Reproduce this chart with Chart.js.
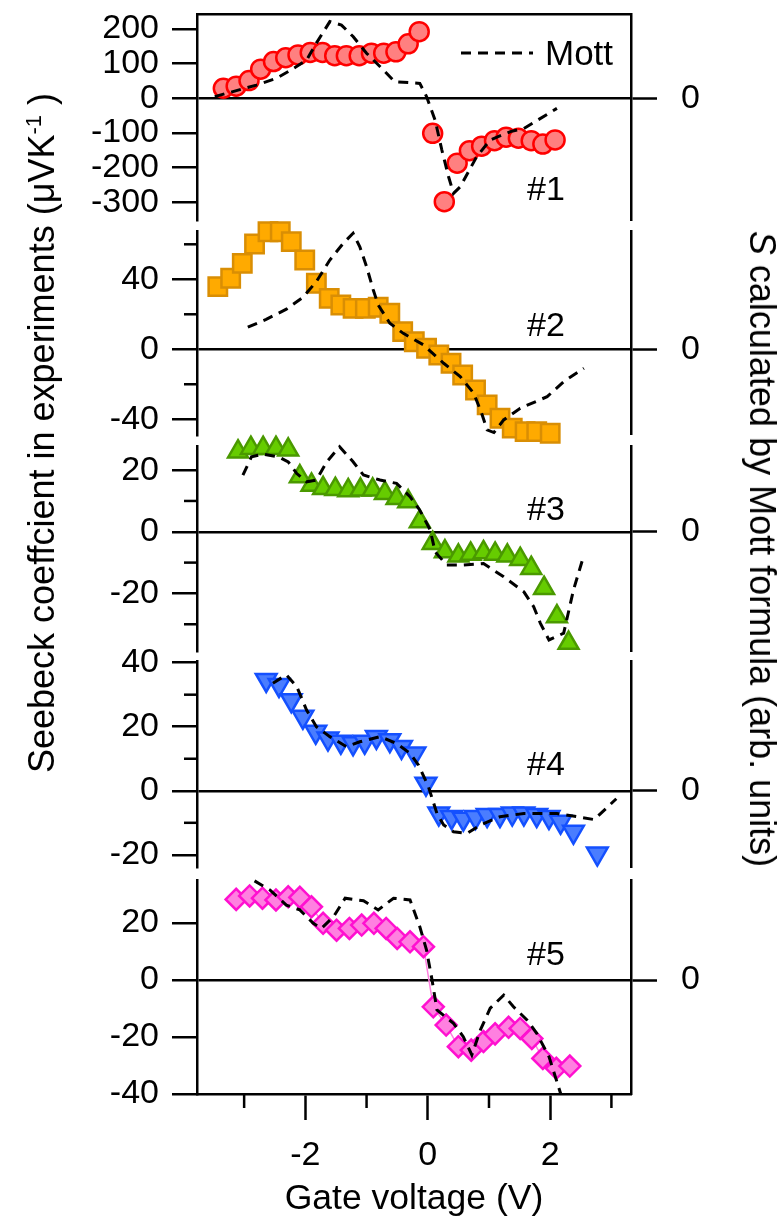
<!DOCTYPE html>
<html>
<head>
<meta charset="utf-8">
<script src="https://cdn.jsdelivr.net/npm/chart.js"></script>
<style>
body { margin: 0; background: #fff; }
#wrap { position: relative; width: 781px; height: 1221px; overflow: hidden; font-family: 'Liberation Sans', Arial, sans-serif; color: #000; }
#wrap canvas { position: absolute; left: 0; top: 0; }
.tag { position: absolute; font-size: 34px; line-height: 34px; white-space: nowrap; }
.vtitle { position: absolute; font-size: 36px; line-height: 40px; white-space: nowrap; }
.vtitle sup { font-size: 22px; line-height: 0; }
</style>
</head>
<body>
<div id="wrap">
  <div class="vtitle" id="leftTitle">Seebeck coeffcient in experiments (μVK<sup>-1</sup>&nbsp;)</div>
  <div class="vtitle" id="rightTitle"><i>S</i> calculated by Mott formula (arb. units)</div>
  <svg style="position:absolute; left:461px; top:48px" width="74" height="10">
    <line x1="0" y1="5" x2="72" y2="5" stroke="#000" stroke-width="3" stroke-dasharray="10,7"></line>
  </svg>
  <div class="tag" style="left:545px; top:36px; font-size:35px">Mott</div>
  <div class="tag" style="left:527px; top:171px">#1</div>
  <div class="tag" style="left:527px; top:307px">#2</div>
  <div class="tag" style="left:527px; top:491px">#3</div>
  <div class="tag" style="left:527px; top:746px">#4</div>
  <div class="tag" style="left:527px; top:936px">#5</div>
</div>
<script>
// experiment (markers) and Mott (dashed) curves, gate voltage in V
const v1 = [-3.34,-3.13,-2.92,-2.73,-2.52,-2.32,-2.12,-1.92,-1.72,-1.52,-1.33,-1.12,-0.92,-0.72,-0.52,-0.32,-0.14,0.08,0.27,0.48,0.68,0.88,1.09,1.28,1.48,1.69,1.88,2.08]
const s1 = [29,35,51,84,106,117,125,132,132,123,123,123,130,130,134,157,192,-101,-298,-187,-151,-138,-122,-112,-115,-122,-132,-120]
const mv1 = [-3.48,-2.8,-2.47,-2.25,-1.98,-1.82,-1.6,-1.41,-1.22,-1.0,-0.75,-0.54,-0.13,-0.02,0.12,0.23,0.34,0.42,0.53,0.8,1.02,1.35,1.57,2.11]
const m1 = [5,38,58,80,110,159,221,211,178,130,86,48,43,5,-63,-149,-226,-274,-255,-168,-120,-96,-87,-29]

const v2 = [-3.43,-3.22,-3.03,-2.83,-2.61,-2.41,-2.23,-2.01,-1.82,-1.61,-1.42,-1.22,-1.02,-0.81,-0.62,-0.41,-0.22,-0.02,0.18,0.38,0.57,0.78,0.97,1.18,1.38,1.59,1.78,2.0]
const s2 = [35.8,40.6,49.1,60.2,67.2,67.2,61.5,51,37.7,29.1,25.3,23.4,23.4,24,20.6,10.1,4.3,0.6,-3.3,-8,-14.7,-23.3,-31.8,-39.4,-45.1,-47.1,-47.1,-48]
const mv2 = [-2.94,-2.64,-2.31,-2.04,-1.82,-1.6,-1.38,-1.22,-1.11,-1.0,-0.89,-0.81,-0.62,-0.4,-0.07,0.26,0.53,0.75,0.88,0.97,1.08,1.24,1.51,1.95,2.22,2.55]
const m2 = [12.6,17.1,22.9,29.7,38.7,51,60.6,66.3,58.6,47.2,33.9,25.3,14.9,9.1,2.5,-8,-15.6,-25.1,-36.6,-46.1,-47.6,-40.4,-33.7,-27.1,-18.5,-10.9]

const v3 = [-3.1,-2.89,-2.69,-2.48,-2.28,-2.09,-1.9,-1.71,-1.51,-1.3,-1.1,-0.9,-0.7,-0.51,-0.32,-0.13,0.08,0.28,0.5,0.7,0.91,1.1,1.3,1.51,1.69,1.9,2.11,2.3]
const s3 = [26,27.1,27.1,27.1,26.6,17.9,15.2,14.1,13.8,13.4,13.6,13.6,12.5,10.9,9.8,3.3,-3.7,-6.4,-7.8,-7.2,-6.7,-7.2,-7.8,-8.9,-11.8,-18.3,-27.5,-36.1]
const mv3 = [-3.02,-2.88,-2.69,-2.44,-2.28,-2.14,-1.98,-1.82,-1.65,-1.44,-1.22,-1.05,-0.78,-0.51,-0.29,-0.13,0.04,0.12,0.31,0.58,0.91,1.24,1.57,1.73,1.84,1.98,2.22,2.38,2.55]
const m3 = [18.4,24.3,25.2,24.3,22.7,18.9,16.2,16.8,22.7,27.6,22.7,18.4,16.8,15.7,11.4,7,0.6,-6.5,-10.8,-10.8,-10.3,-14.6,-19.5,-24.3,-29.7,-35.1,-32.9,-18.9,-7.6]

const v4 = [-2.64,-2.43,-2.23,-2.04,-1.83,-1.63,-1.42,-1.22,-1.03,-0.84,-0.62,-0.43,-0.21,-0.03,0.18,0.39,0.58,0.78,0.97,1.18,1.38,1.57,1.78,1.98,2.17,2.38,2.77]
const s4 = [34.6,33,28.3,23.1,18.4,16.3,15.3,14.8,15.3,16.8,15.8,13.7,11.6,2.2,-7.1,-8.2,-8.7,-8.2,-7.6,-7.6,-7.1,-7.1,-7.6,-8.2,-9.7,-12.8,-19.6]
const mv4 = [-2.53,-2.31,-2.14,-2.06,-1.98,-1.82,-1.6,-1.33,-1.11,-0.78,-0.51,-0.29,-0.15,0.01,0.15,0.26,0.42,0.64,0.86,1.18,1.57,2.11,2.44,2.72,3.08]
const m4 = [33.6,36.2,32.5,28.9,25.2,20,16.9,13.8,15.3,16.9,14.8,11.7,8,1.3,-7.1,-10.7,-12.8,-13.3,-10.7,-8.1,-7.1,-7.1,-8.1,-9,-2.5]

const v5 = [-3.13,-2.91,-2.7,-2.48,-2.28,-2.09,-1.9,-1.71,-1.49,-1.28,-1.08,-0.88,-0.68,-0.5,-0.29,-0.07,0.09,0.3,0.5,0.71,0.91,1.1,1.32,1.51,1.7,1.88,2.1,2.32]
const s5 = [28.3,29.5,28.7,28.1,29.2,29,25.7,19.9,17.5,18.1,19.3,19.9,18.1,14.6,13.4,11.7,-9.4,-15.8,-23.4,-24.6,-21.6,-18.9,-16.6,-17,-20.5,-27.5,-31,-30.2]
const mv5 = [-2.83,-2.58,-2.31,-2.09,-1.87,-1.74,-1.54,-1.35,-1.05,-0.81,-0.56,-0.29,-0.13,-0.02,0.07,0.15,0.42,0.58,0.72,0.86,1.02,1.24,1.4,1.62,1.78,1.98,2.17]
const m5 = [34.8,31.6,26.3,24.6,19.9,18.1,22.2,28.7,27.8,24.6,28.7,28.1,18.7,10.5,0,-10.5,-15.2,-19.9,-26.3,-17.5,-9.9,-5.3,-9.4,-14,-18.7,-26.9,-39.8]

// axes
const xRange = [-3.77, 3.32]
const xTicks = [-2, 0, 2]
const xMinor = [-3, -1, 1, 3]
const yRanges = [[-350.7, 243], [-49, 67.2], [-38.9, 27.6], [-23.8, 40.3], [-40, 35.1]]
const yTicks = [[-300, -200, -100, 0, 100, 200], [-40, 0, 40], [-20, 0, 20], [-20, 0, 20, 40], [-40, -20, 0, 20]]
const yMinor = [[], [60, 20, -20], [10, -10, -30], [30, 10, -10], []]

const expV = [v1, v2, v3, v4, v5]
const expS = [s1, s2, s3, s4, s5]
const mottV = [mv1, mv2, mv3, mv4, mv5]
const mottS = [m1, m2, m3, m4, m5]

// panel boxes in page pixels and marker looks
const tops = [14, 231.7, 446.7, 661.7, 880]
const bottoms = [220, 435, 651.7, 867, 1094]
const looks = [
    { style: 'circle', rot: 0, r: 9.5, fill: '#ff8080', edge: '#ff0000' },
    { style: 'rect', rot: 0, r: 13, fill: '#ffaa00', edge: '#d98e04' },
    { style: 'triangle', rot: 0, r: 11.5, fill: '#66cc00', edge: '#4a9900' },
    { style: 'triangle', rot: 180, r: 12, fill: '#4a7dff', edge: '#1450ff' },
    { style: 'rectRot', rot: 0, r: 10.5, fill: '#ff80e0', edge: '#ff10d0' }
]

const W = 781, H = 1221
const LEFT = 197, RIGHT = 631
const tickFont = { family: 'Liberation Sans', size: 34 }

Chart.defaults.color = '#000'
Chart.defaults.font.family = 'Liberation Sans'

function zip(xs, ys) {
    return xs.map((x, i) => ({ x: x, y: ys[i] }))
}

// short minor tick marks, placed with the chart's own scales
const minorTicks = {
    id: 'minorTicks',
    afterDraw(chart, args, opts) {
        let ctx = chart.ctx
        ctx.save()
        ctx.strokeStyle = '#000'
        ctx.lineWidth = 2.5
        let y = chart.scales.y
        for (let v of opts.y || []) {
            let py = y.getPixelForValue(v)
            ctx.beginPath()
            ctx.moveTo(chart.chartArea.left - 13, py)
            ctx.lineTo(chart.chartArea.left, py)
            ctx.stroke()
        }
        let x = chart.scales.x
        for (let v of opts.x || []) {
            let px = x.getPixelForValue(v)
            ctx.beginPath()
            ctx.moveTo(px, chart.chartArea.bottom)
            ctx.lineTo(px, chart.chartArea.bottom + 14)
            ctx.stroke()
        }
        ctx.restore()
    }
}

let wrap = document.getElementById('wrap')

function makePanel(i) {
    let first = i === 0
    let last = i === 4
    let look = looks[i]

    let canvas = document.createElement('canvas')
    canvas.width = W
    canvas.height = H
    wrap.insertBefore(canvas, wrap.firstChild)

    let xAxis = {
        type: 'linear',
        min: xRange[0],
        max: xRange[1],
        display: first || last,
        position: first ? 'top' : 'bottom',
        afterBuildTicks: s => { s.ticks = xTicks.map(v => ({ value: v })) },
        afterFit: s => { s.height = last ? H - bottoms[4] : 0 },
        border: { display: true, color: '#000', width: 2.5 },
        grid: { drawOnChartArea: false, drawTicks: last, tickLength: 26, tickWidth: 2.5, tickColor: '#000' },
        ticks: { display: last, autoSkip: false, maxRotation: 0, font: tickFont, padding: 15, color: '#000' },
        title: { display: last, text: 'Gate voltage (V)', font: { family: 'Liberation Sans', size: 35.5 }, padding: 0, color: '#000' }
    }

    new Chart(canvas.getContext('2d'), {
        type: 'scatter',
        data: {
            datasets: [
                {
                    label: 'Mott',
                    data: zip(mottV[i], mottS[i]),
                    showLine: true,
                    borderColor: '#000',
                    borderWidth: 3,
                    borderDash: [10, 7],
                    pointRadius: 0,
                    clip: false,
                    order: 0
                },
                {
                    label: '#' + (i + 1),
                    data: zip(expV[i], expS[i]),
                    showLine: last,
                    borderColor: look.fill,
                    borderWidth: 1.5,
                    pointStyle: look.style,
                    pointRotation: look.rot,
                    pointRadius: look.r,
                    pointBackgroundColor: look.fill,
                    pointBorderColor: look.edge,
                    pointBorderWidth: 2.5,
                    clip: false,
                    order: 1
                }
            ]
        },
        options: {
            responsive: false,
            animation: false,
            events: [],
            layout: { padding: { left: 0, right: 0, top: tops[i], bottom: last ? 0 : H - bottoms[i] } },
            plugins: {
                legend: { display: false },
                tooltip: { enabled: false },
                minorTicks: { y: yMinor[i], x: last ? xMinor : [] }
            },
            scales: {
                x: xAxis,
                y: {
                    type: 'linear',
                    position: 'left',
                    min: yRanges[i][0],
                    max: yRanges[i][1],
                    afterBuildTicks: s => { s.ticks = yTicks[i].map(v => ({ value: v })) },
                    afterFit: s => { s.width = LEFT; s.paddingTop = 0; s.paddingBottom = 0 },
                    border: { display: true, color: '#000', width: 2.5 },
                    grid: {
                        drawOnChartArea: true,
                        color: c => (c.tick && c.tick.value === 0) ? '#000' : 'rgba(0,0,0,0)',
                        lineWidth: 2.5,
                        tickLength: 25,
                        tickWidth: 2.5,
                        tickColor: '#000'
                    },
                    ticks: { autoSkip: false, font: tickFont, padding: 13, color: '#000' }
                },
                y1: {
                    type: 'linear',
                    position: 'right',
                    min: yRanges[i][0],
                    max: yRanges[i][1],
                    afterBuildTicks: s => { s.ticks = [{ value: 0 }] },
                    afterFit: s => { s.width = W - RIGHT; s.paddingTop = 0; s.paddingBottom = 0 },
                    border: { display: true, color: '#000', width: 2.5 },
                    grid: { drawOnChartArea: false, tickLength: 26, tickWidth: 2.5, tickColor: '#000' },
                    ticks: { autoSkip: false, font: tickFont, padding: 24, color: '#000' }
                }
            }
        },
        plugins: [minorTicks]
    })
}

for (let i = 0; i < 5; i++) makePanel(i)

// axis titles that run along the whole figure
let lt = document.getElementById('leftTitle')
lt.style.left = '42px'
lt.style.top = '433px'
lt.style.transform = 'translate(-50%, -50%) rotate(-90deg)'
let rt = document.getElementById('rightTitle')
rt.style.left = '762px'
rt.style.top = '549px'
rt.style.transform = 'translate(-50%, -50%) rotate(90deg)'
</script>
</body>
</html>
